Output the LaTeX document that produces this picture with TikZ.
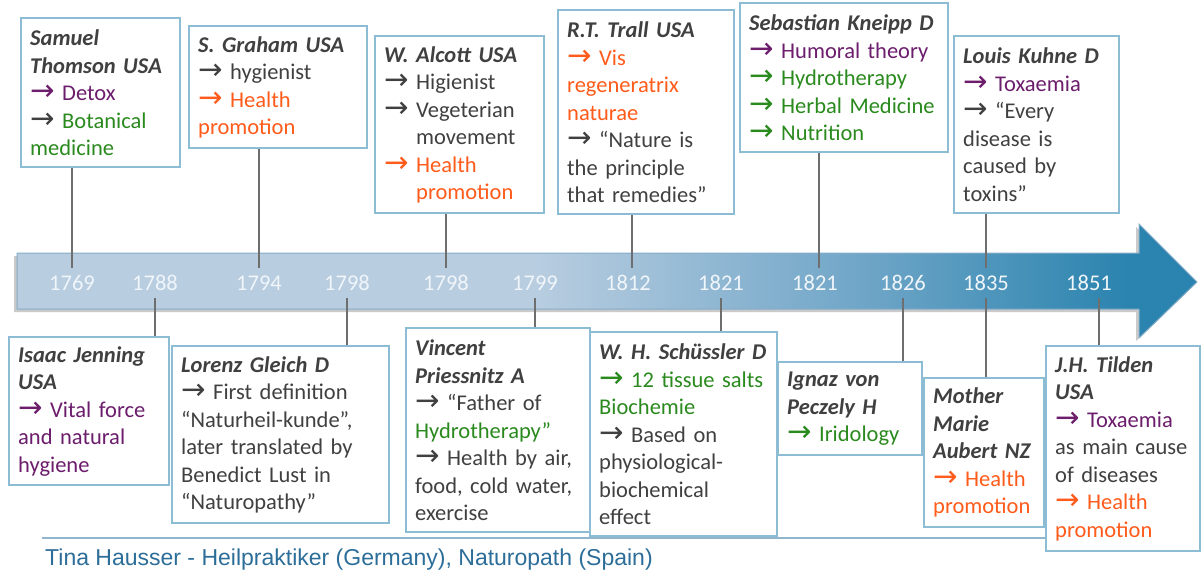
\documentclass[tikz,border=0pt]{standalone}
\usepackage{fontspec}
\setmainfont{Carlito}
\newfontfamily\footfont{Liberation Sans}
\newfontfamily\arrowfont{DejaVu Sans}[Scale=1.3]
\usetikzlibrary{positioning, calc}
\definecolor{ink}{HTML}{404040}
\definecolor{plum}{HTML}{6C1D6C}
\definecolor{leaf}{HTML}{2A8A1E}
\definecolor{flame}{HTML}{FF5B1A}
\definecolor{boxline}{HTML}{8DBDD4}
\definecolor{bandlight}{HTML}{B8CDE0}
\definecolor{bandmid}{HTML}{74A8C9}
\definecolor{banddark}{HTML}{2B84AF}
\definecolor{bandedge}{HTML}{86ACC8}
\definecolor{stemgrey}{HTML}{6E6E6E}
\definecolor{yearwhite}{HTML}{F0F5FA}
\definecolor{footblue}{HTML}{2C6E99}
\definecolor{footrule}{HTML}{8FB6CC}
\pgfdeclarehorizontalshading{bandfill}{100bp}{color(0bp)=(bandlight); color(47bp)=(bandlight); color(60bp)=(bandmid); color(72bp)=(banddark); color(100bp)=(banddark)}
\newcommand{\pointer}[1]{{\color{#1}\arrowfont\symbol{"2192}}\ }
\newcommand{\arrtext}[2]{\pointer{#1}\textcolor{#1}{#2}}
\newcommand{\who}[1]{{\bfseries\itshape #1}}
\newcommand{\hang}{\hphantom{\pointer{ink}}}

\begin{document}
\begin{tikzpicture}[x=1pt, y=-1pt,
  card/.style={draw=boxline, line width=2.4pt, fill=white, anchor=north west,
               align=left, inner xsep=9pt, inner ysep=4pt, text=ink,
               font=\fontsize{22.5}{27.5}\selectfont},
  year/.style={text=yearwhite, font=\fontsize{22.5}{22.5}\selectfont,
               inner sep=0pt, minimum height=30pt},
  stem/.style={draw=stemgrey, line width=2pt},
  credit/.style={text=footblue, font=\footfont\fontsize{23}{23}\selectfont,
                 anchor=base west, inner sep=0pt}]
  \useasboundingbox (0,0) rectangle (1201,571);

  % footer rule
  \draw[footrule, line width=2.5pt] (42,538) -- (1046,538);

  % timeline band
  \fill[black!60, opacity=.35, xshift=-3pt, yshift=-3pt]
    (17,253) -- (1139,253) -- (1139,224) -- (1197,282) -- (1139,338) -- (1139,309) -- (17,309) -- cycle;
  \shadedraw[shading=bandfill, draw=bandedge, line width=1pt]
    (17,253) -- (1139,253) -- (1139,224) -- (1197,282) -- (1139,338) -- (1139,309) -- (17,309) -- cycle;

  \foreach \yr/\x [count=\i] in {1769/72, 1788/155, 1794/259, 1798/347, 1798/446, 1799/535,
                                 1812/628, 1821/721, 1821/815, 1826/903, 1835/986, 1851/1089}
    \node[year] (yr\i) at (\x,283) {\yr};
  \coordinate (t7) at ([xshift=4pt]yr7.north);
  \coordinate (t9) at ([xshift=4pt]yr9.north);
  \coordinate (b12) at ([xshift=10pt]yr12.south);

  % upper cards
  \node[card, text width=141pt, minimum height=149pt] (thomson) at (20,17)
    {\who{Samuel}\\ \who{Thomson USA}\\ \arrtext{plum}{Detox}\\ \pointer{ink}\textcolor{leaf}{Botanical}\\ \textcolor{leaf}{medicine}};
  \node[card, text width=160pt, minimum height=122pt] (graham) at (188,25)
    {\who{S. Graham USA}\\ \pointer{ink}hygienist\\ \arrtext{flame}{Health}\\ \textcolor{flame}{promotion}};
  \node[card, text width=151pt, minimum height=177pt] (alcott) at (374,35)
    {\who{W. Alcott USA}\\ \pointer{ink}Higienist\\ \pointer{ink}Vegeterian\\ \hang movement\\ \arrtext{flame}{Health}\\ \hang\textcolor{flame}{promotion}};
  \node[card, text width=158pt, minimum height=204pt] (trall) at (557,9)
    {\who{R.T. Trall USA}\\ \arrtext{flame}{Vis}\\ \textcolor{flame}{regeneratrix}\\ \textcolor{flame}{naturae}\\ \pointer{ink}“Nature is\\ the principle\\ that remedies”};
  \node[card, text width=190pt, minimum height=149pt] (kneipp) at (739,2)
    {\who{Sebastian Kneipp D}\\ \arrtext{plum}{Humoral theory}\\ \arrtext{leaf}{Hydrotherapy}\\ \arrtext{leaf}{Herbal Medicine}\\ \arrtext{leaf}{Nutrition}};
  \node[card, text width=147pt, minimum height=177pt] (kuhne) at (953,35)
    {\who{Louis Kuhne D}\\ \arrtext{plum}{Toxaemia}\\ \pointer{ink}“Every\\ disease is\\ caused by\\ toxins”};

  % lower cards
  \node[card, text width=142pt, minimum height=148pt] (jenning) at (8,336)
    {\who{Isaac Jenning}\\ \who{USA}\\ \arrtext{plum}{Vital force}\\ \textcolor{plum}{and natural}\\ \textcolor{plum}{hygiene}};
  \node[card, text width=199pt, minimum height=177pt] (gleich) at (171,345)
    {\who{Lorenz Gleich D}\\ \pointer{ink}First definition\\ “Naturheil-kunde”,\\ later translated by\\ Benedict Lust in\\ “Naturopathy”};
  \node[card, text width=166pt, minimum height=204pt] (priessnitz) at (405,327)
    {\who{Vincent}\\ \who{Priessnitz A}\\ \pointer{ink}“Father of\\ \textcolor{leaf}{Hydrotherapy”}\\ \pointer{ink}Health by air,\\ food, cold water,\\ exercise};
  \node[card, text width=169pt, minimum height=204pt] (schussler) at (589,331)
    {\who{W. H. Schüssler D}\\ \arrtext{leaf}{12 tissue salts}\\ \textcolor{leaf}{Biochemie}\\ \pointer{ink}Based on\\ physiological-\\ biochemical\\ effect};
  \node[card, text width=126pt, minimum height=93pt] (peczely) at (777,361)
    {\who{Ignaz von}\\ \who{Peczely H}\\ \arrtext{leaf}{Iridology}};
  \node[card, text width=102pt, minimum height=149pt] (aubert) at (923,377)
    {\who{Mother}\\ \who{Marie}\\ \who{Aubert NZ}\\ \arrtext{flame}{Health}\\ \textcolor{flame}{promotion}};
  \node[card, text width=136pt, minimum height=205pt] (tilden) at (1045,345)
    {\who{J.H. Tilden}\\ \who{USA}\\ \arrtext{plum}{Toxaemia}\\ as main cause\\ of diseases\\ \arrtext{flame}{Health}\\ \textcolor{flame}{promotion}};

  % stems
  \draw[stem] (thomson.south -| yr1.north) -- (yr1.north);
  \draw[stem] (graham.south -| yr3.north) -- (yr3.north);
  \draw[stem] (alcott.south -| yr5.north) -- (yr5.north);
  \draw[stem] (trall.south -| t7) -- (t7);
  \draw[stem] (kneipp.south -| t9) -- (t9);
  \draw[stem] (kuhne.south -| yr11.north) -- (yr11.north);
  \draw[stem] (yr2.south) -- (jenning.north -| yr2.south);
  \draw[stem] (yr4.south) -- (gleich.north -| yr4.south);
  \draw[stem] (yr6.south) -- (priessnitz.north -| yr6.south);
  \draw[stem] (yr8.south) -- (schussler.north -| yr8.south);
  \draw[stem] (yr10.south) -- (peczely.north -| yr10.south);
  \draw[stem] (yr11.south) -- (aubert.north -| yr11.south);
  \draw[stem] (b12) -- (tilden.north -| b12);

  \node[credit] (footer) at (45,565) {Tina Hausser - Heilpraktiker (Germany), Naturopath (Spain)};
\end{tikzpicture}
\end{document}
